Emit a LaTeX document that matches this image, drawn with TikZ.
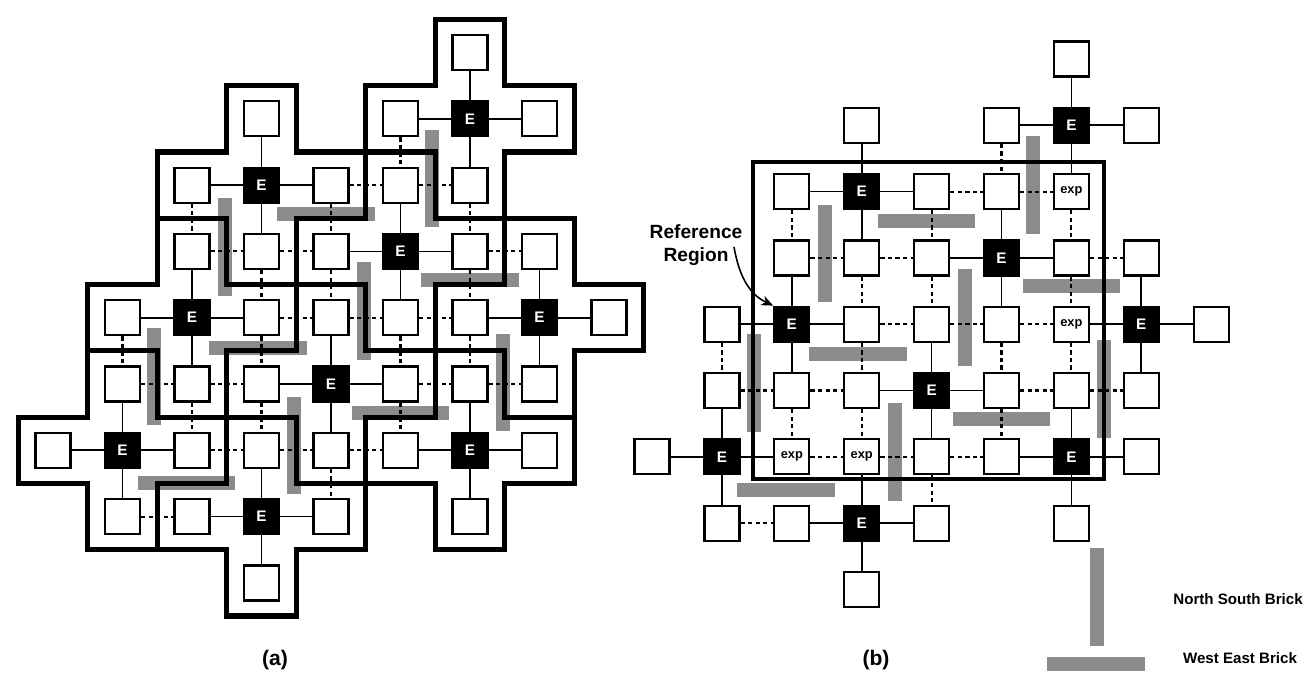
\documentclass[tikz,border=0pt]{standalone}
\usepackage{fontspec}
\setmainfont{Liberation Sans}
\usetikzlibrary{arrows.meta,positioning}
\definecolor{brickgray}{RGB}{140,140,140}

% grid cells as row/column
\newcommand\ecells{1/6,2/3,3/5,4/2,4/7,5/4,6/1,6/6,7/3}
\newcommand\pcells{0/6,1/3,1/5,1/7,2/2,2/4,2/5,3/2,3/3,3/4,3/6,3/7,4/1,4/3,4/4,4/5,4/8,5/1,5/2,5/3,5/5,5/6,5/7,6/0,6/4,6/5,6/7,7/1,7/2,7/4,7/6,8/3}
\newcommand\xcells{2/6,4/6,6/2,6/3}
\newcommand\dlinks{2/4/2/5,2/5/2/6,3/2/3/3,3/3/3/4,3/6/3/7,4/3/4/4,4/4/4/5,4/5/4/6,5/1/5/2,5/2/5/3,5/5/5/6,5/6/5/7,6/2/6/3,6/3/6/4,6/4/6/5,7/1/7/2,4/1/5/1,2/2/3/2,5/2/6/2,3/3/4/3,4/3/5/3,5/3/6/3,2/4/3/4,3/4/4/4,6/4/7/4,1/5/2/5,4/5/5/5,5/5/6/5,2/6/3/6,3/6/4/6,4/6/5/6}
% bricks as column/row
\newcommand\nsbricks{5.45/1.9,2.47/2.93,4.48/3.9,1.46/4.89,6.47/4.98,3.47/5.93}
\newcommand\webricks{3.93/2.44,6.0/3.43,2.95/4.45,5.0/5.43,1.92/6.5}

\tikzset{
  cell/.style={draw,fill=white,line width=1.25pt,minimum size=0.7cm,inner sep=0pt,
    font=\fontsize{7.3}{8}\selectfont\bfseries},
  ecell/.style={cell,fill=black,text=white,font=\fontsize{8.7}{9}\selectfont\bfseries},
  link/.style={line width=1pt},
  dlink/.style={line width=1.2pt,dash pattern=on 2.4pt off 1.9pt},
  nsbrick/.style={fill=brickgray,minimum width=0.28cm,minimum height=1.95cm,inner sep=0pt},
  webrick/.style={fill=brickgray,minimum width=1.95cm,minimum height=0.28cm,inner sep=0pt},
  region/.style={line width=3pt},
  refbox/.style={line width=1.8pt},
  legend/.style={font=\fontsize{8.6}{10}\selectfont\bfseries}
}

\begin{document}
\begin{tikzpicture}
  \useasboundingbox (0,0) rectangle (26.12,-13.5);
  % both meshes
  \foreach \p/\sx/\sy/\dx in {a/1.06/-1.05/1.39cm,b/13.04/-1.18/1.398cm}{
    \begin{scope}[shift={(\sx,\sy)},x=\dx,y=-1.326cm]
      \foreach \c/\r [count=\i] in \nsbricks
        \node[nsbrick] (\p-ns\i) at (\c,\r) {};
      \foreach \c/\r [count=\i] in \webricks
        \node[webrick] (\p-we\i) at (\c,\r) {};
      \foreach \r/\c in \ecells
        \node[ecell] (\p-\r-\c) at (\c,\r) {E};
      \foreach \r/\c in \pcells
        \node[cell] (\p-\r-\c) at (\c,\r) {};
      \foreach \r/\c in \xcells
        \node[cell] (\p-\r-\c) at (\c,\r) {\if b\p exp\fi};
      % links
      \foreach \r/\c in \ecells
        \foreach \dr/\dc in {-1/0,1/0,0/-1,0/1}{
          \pgfmathtruncatemacro\rr{\r+\dr}
          \pgfmathtruncatemacro\cc{\c+\dc}
          \draw[link] (\p-\r-\c) -- (\p-\rr-\cc);
        }
      \foreach \ra/\ca/\rb/\cb in \dlinks
        \draw[dlink] (\p-\ra-\ca) -- (\p-\rb-\cb);
      % regions
      \if a\p
        \foreach \r/\c in \ecells
          \draw[region] (\c-.5,\r-1.5) -- ++(1,0) -- ++(0,1) -- ++(1,0) -- ++(0,1) -- ++(-1,0)
            -- ++(0,1) -- ++(-1,0) -- ++(0,-1) -- ++(-1,0) -- ++(0,-1) -- ++(1,0) -- cycle;
      \fi
    \end{scope}
  }
  \draw[refbox] (15.06,-3.24) rectangle (22.08,-9.58);
  \node[font=\fontsize{10.9}{13}\selectfont\bfseries,align=center] (refnote) at (13.92,-4.9) {Reference\\Region};
  \coordinate (refstart) at (14.68,-4.94);
  \draw[line width=0.9pt,-{Stealth[length=2.4mm,width=2mm]}] (refstart) to[out=-80,in=155] (b-4-2.north west);
  % captions
  \node[font=\fontsize{12}{14}\selectfont\bfseries] (capa) at (5.5,-13.2) {(a)};
  \node[font=\fontsize{12}{14}\selectfont\bfseries] (capb) at (17.52,-13.2) {(b)};
  % legend
  \node[nsbrick] (legns) at (21.94,-11.94) {};
  \node[webrick] (legwe) at (21.92,-13.28) {};
  \node[legend] (legnstext) at (24.76,-11.98) {North South Brick};
  \node[legend] (legwetext) at (24.8,-13.16) {West East Brick};
\end{tikzpicture}
\end{document}
